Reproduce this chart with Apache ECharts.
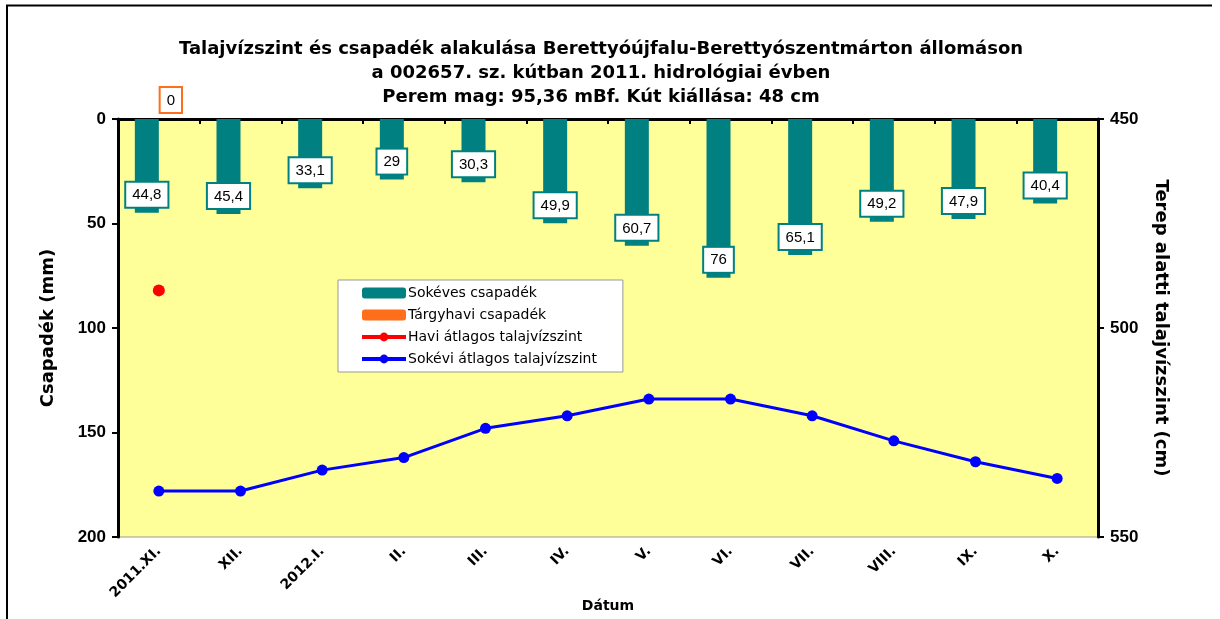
<!DOCTYPE html>
<html>
<head>
<meta charset="utf-8">
<script src="https://cdn.jsdelivr.net/npm/echarts@6/dist/echarts.min.js"></script>
<style>
  html, body { margin: 0; padding: 0; background: #fff; }
  #main { width: 1220px; height: 619px; }
</style>
</head>
<body>
<div id="main"></div>
<script>
var months = ['2011.XI.', 'XII.', '2012.I.', 'II.', 'III.', 'IV.', 'V.', 'VI.', 'VII.', 'VIII.', 'IX.', 'X.'];
// sokéves csapadék (mm)
var longRain = [44.8, 45.4, 33.1, 29, 30.3, 49.9, 60.7, 76, 65.1, 49.2, 47.9, 40.4];
// tárgyhavi csapadék (mm)
var monthRain = [0, null, null, null, null, null, null, null, null, null, null, null];
// havi átlagos talajvízszint (cm)
var monthLevel = [491, null, null, null, null, null, null, null, null, null, null, null];
// sokévi átlagos talajvízszint (cm)
var longLevel = [539, 539, 534, 531, 524, 521, 517, 517, 521, 527, 532, 536];

var arial = 'Arial, "Liberation Sans", sans-serif';
var wide = '"DejaVu Sans", Verdana, sans-serif';
var chart = echarts.init(document.getElementById('main'));

var option = {
  textStyle: { fontFamily: arial },
  title: {
    text: 'Talajvízszint és csapadék alakulása Berettyóújfalu-Berettyószentmárton állomáson\na 002657. sz. kútban 2011. hidrológiai évben\nPerem mag: 95,36 mBf. Kút kiállása: 48 cm',
    left: 596,
    top: 32,
    textAlign: 'center',
    textStyle: { fontFamily: wide, fontSize: 18, fontWeight: 'bold', color: '#000', lineHeight: 24 }
  },
  legend: {
    orient: 'vertical',
    left: 338,
    top: 280,
    padding: [6, 26, 6, 22],
    itemGap: 8,
    itemWidth: 44,
    itemHeight: 11,
    backgroundColor: '#fff',
    borderColor: '#999',
    borderWidth: 1,
    borderRadius: 0,
    lineStyle: { width: 4 },
    textStyle: { fontFamily: wide, fontSize: 14, color: '#000', padding: [0, 0, 0, -3] },
    data: ['Sokéves csapadék', 'Tárgyhavi csapadék', 'Havi átlagos talajvízszint', 'Sokévi átlagos talajvízszint']
  },
  grid: {
    left: 118, right: 122, top: 119, bottom: 82,
    outerBoundsMode: 'none',
    containLabel: false,
    show: true,
    backgroundColor: '#FFFF99',
    borderColor: '#999',
    borderWidth: 1
  },
  xAxis: {
    type: 'category',
    data: months,
    name: 'Dátum',
    nameLocation: 'middle',
    nameGap: 62,
    nameMoveOverlap: false,
    nameTextStyle: { fontFamily: wide, fontSize: 14, fontWeight: 'bold', color: '#000' },
    axisLine: { lineStyle: { color: '#000', width: 3 } },
    axisTick: { show: true, length: 5, lineStyle: { color: '#000', width: 2 } },
    axisLabel: { rotate: 45, fontFamily: wide, fontSize: 14, fontWeight: 'bold', color: '#000', margin: 12 }
  },
  yAxis: [{
    type: 'value',
    inverse: true,
    min: 0, max: 200, interval: 50,
    name: 'Csapadék (mm)',
    nameLocation: 'middle',
    nameGap: 61,
    nameMoveOverlap: false,
    nameTextStyle: { fontFamily: wide, fontSize: 18, fontWeight: 'bold', color: '#000' },
    axisLine: { show: true, lineStyle: { color: '#000', width: 3 } },
    axisTick: { show: true, length: 6, lineStyle: { color: '#000', width: 2 } },
    axisLabel: { fontFamily: arial, fontSize: 17, fontWeight: 'bold', color: '#000', margin: 12 },
    splitLine: { show: false }
  }, {
    type: 'value',
    inverse: true,
    min: 450, max: 550, interval: 50,
    name: 'Terep alatti talajvízszint (cm)',
    nameLocation: 'middle',
    nameGap: 54,
    nameRotate: -90,
    nameMoveOverlap: false,
    nameTextStyle: { fontFamily: wide, fontSize: 18, fontWeight: 'bold', color: '#000' },
    axisLine: { show: true, lineStyle: { color: '#000', width: 3 } },
    axisTick: { show: true, length: 6, lineStyle: { color: '#000', width: 2 } },
    axisLabel: { fontFamily: arial, fontSize: 17, fontWeight: 'bold', color: '#000', margin: 12 },
    splitLine: { show: false }
  }],
  series: [{
    name: 'Sokéves csapadék',
    type: 'bar',
    data: longRain,
    barWidth: 24,
    barGap: '0%',
    itemStyle: { color: '#008080' },
    label: {
      show: true,
      position: 'insideBottom',
      distance: 6,
      formatter: function (p) { return String(p.value).replace('.', ','); },
      fontFamily: arial, fontSize: 15, color: '#000',
      backgroundColor: '#fff', borderColor: '#008080', borderWidth: 2,
      padding: [5, 6, 4, 6]
    }
  }, {
    name: 'Tárgyhavi csapadék',
    type: 'bar',
    data: monthRain,
    barWidth: 24,
    itemStyle: { color: '#FF6F1A' },
    label: {
      show: true,
      position: 'top',
      distance: 7,
      fontFamily: arial, fontSize: 15, color: '#000',
      backgroundColor: '#fff', borderColor: '#FF6F1A', borderWidth: 2,
      padding: [5, 6, 4, 6]
    }
  }, {
    name: 'Havi átlagos talajvízszint',
    type: 'line',
    yAxisIndex: 1,
    data: monthLevel,
    symbol: 'circle',
    symbolSize: 12,
    itemStyle: { color: '#FF0000' },
    lineStyle: { color: '#FF0000', width: 3 }
  }, {
    name: 'Sokévi átlagos talajvízszint',
    type: 'line',
    yAxisIndex: 1,
    data: longLevel,
    symbol: 'circle',
    symbolSize: 11,
    itemStyle: { color: '#0000FF' },
    lineStyle: { color: '#0000FF', width: 3 },
    z: 3
  }],
  graphic: [
    { type: 'line', shape: { x1: 6, y1: 5.5, x2: 1212, y2: 5.5 }, style: { stroke: '#000', lineWidth: 2 } },
    { type: 'line', shape: { x1: 7, y1: 5, x2: 7, y2: 640 }, style: { stroke: '#000', lineWidth: 2 } }
  ]
};

chart.setOption(option);
</script>
</body>
</html>
